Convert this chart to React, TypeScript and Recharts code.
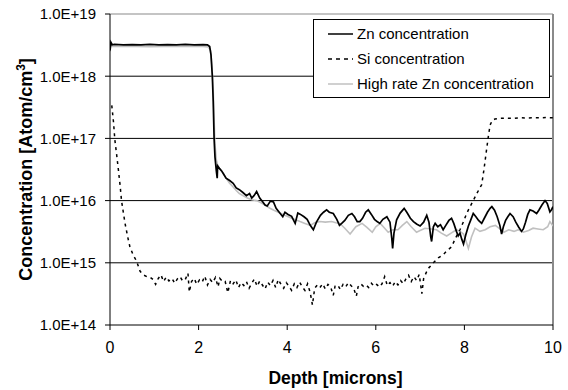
import React from 'react';
import { LineChart, Line, XAxis, YAxis, CartesianGrid, Legend, ReferenceLine, Label } from 'recharts';

const FONT = '"Liberation Sans", Arial, Helvetica, sans-serif';

// ---------- data ----------
const seriesNames = ['Zn concentration', 'Si concentration', 'High rate Zn concentration'];

const znDepth = [
  0.0, 0.02, 0.05, 0.1, 0.3, 0.5, 0.7, 0.9, 1.1, 1.3, 1.5, 1.7, 1.9, 2.1, 2.2, 2.25, 2.28, 2.31, 2.33, 2.35,
  2.37, 2.4, 2.42, 2.43, 2.47, 2.52, 2.56, 2.62, 2.7, 2.78, 2.85, 2.92, 3.0, 3.08, 3.15, 3.2, 3.25, 3.31, 3.38, 3.45,
  3.5, 3.55, 3.62, 3.69, 3.75, 3.82, 3.9, 3.95, 4.02, 4.1, 4.18, 4.24, 4.3, 4.38, 4.45, 4.52, 4.59, 4.66, 4.75, 4.82,
  4.89, 4.95, 5.04, 5.12, 5.18, 5.23, 5.3, 5.38, 5.46, 5.52, 5.58, 5.64, 5.7, 5.77, 5.83, 5.9, 5.97, 6.03, 6.09, 6.16,
  6.25, 6.32, 6.36, 6.38, 6.41, 6.47, 6.55, 6.64, 6.7, 6.78, 6.85, 6.92, 7.0, 7.08, 7.15, 7.2, 7.24, 7.26, 7.3, 7.34,
  7.4, 7.46, 7.52, 7.58, 7.65, 7.71, 7.76, 7.82, 7.86, 7.9, 7.94, 7.98, 8.03, 8.09, 8.14, 8.2, 8.26, 8.32, 8.39, 8.45,
  8.52, 8.58, 8.62, 8.68, 8.74, 8.8, 8.84, 8.88, 8.93, 8.98, 9.03, 9.1, 9.16, 9.22, 9.29, 9.33, 9.38, 9.43, 9.48, 9.55,
  9.63, 9.68, 9.75, 9.82, 9.87, 9.93, 9.97, 10.0,
];
const znConc = [
  2.6e18, 3.5e18, 3.2e18, 3.25e18, 3.2e18, 3.22e18, 3.18e18, 3.25e18, 3.2e18, 3.22e18, 3.18e18, 3.24e18, 3.2e18, 3.22e18, 3.2e18, 3.0e18, 2.2e18, 1.0e18, 4e17, 1.0e17,
  5e16, 3.0e16, 2.3e16, 3.6e16, 3.3e16, 3.0e16, 2.7e16, 2.3e16, 2.1e16, 1.9e16, 1.6e16, 1.5e16, 1.35e16, 1.2e16, 1.3e16, 1.1e16, 1.2e16, 1.4e16, 1.1e16, 9.5e15,
  8.5e15, 8.2e15, 9.8e15, 9.5e15, 7.5e15, 6.5e15, 5.5e15, 6.5e15, 6.0e15, 5.6e15, 4.3e15, 6.3e15, 6.0e15, 5.5e15, 5.0e15, 4.0e15, 3.4e15, 4.5e15, 5.8e15, 6.5e15,
  7.1e15, 6.5e15, 6.2e15, 5.0e15, 4.0e15, 4.3e15, 4.8e15, 5.8e15, 6.2e15, 5.5e15, 4.6e15, 4.6e15, 5.2e15, 6.5e15, 7.1e15, 6.0e15, 5.0e15, 4.6e15, 4.3e15, 5.0e15,
  5.5e15, 4.5e15, 2.5e15, 1.7e15, 3.0e15, 4.9e15, 6.3e15, 7.5e15, 6.5e15, 5.2e15, 4.6e15, 4.2e15, 3.9e15, 4.5e15, 5.8e15, 4.5e15, 2.6e15, 2.2e15, 3.8e15, 4.3e15,
  3.8e15, 4.1e15, 3.4e15, 4.0e15, 4.8e15, 5.2e15, 4.3e15, 3.2e15, 2.7e15, 3.0e15, 2.4e15, 2.0e15, 2.8e15, 3.9e15, 4.8e15, 6.2e15, 5.5e15, 4.8e15, 4.3e15, 5.2e15,
  6.5e15, 7.5e15, 8.0e15, 7.0e15, 5.5e15, 4.0e15, 2.9e15, 3.8e15, 4.8e15, 5.5e15, 6.2e15, 5.5e15, 4.5e15, 3.8e15, 3.2e15, 3.5e15, 4.5e15, 6.0e15, 7.1e15, 6.8e15,
  6.2e15, 7.0e15, 8.5e15, 1.0e16, 9.0e15, 6.6e15, 7.2e15, 8.0e15,
];

const siDepth = [
  0.04, 0.08, 0.11, 0.15, 0.19, 0.23, 0.26, 0.3, 0.34, 0.4, 0.45, 0.52, 0.6, 0.68, 0.75, 0.83, 0.9, 0.97, 1.03, 1.09,
  1.15, 1.21, 1.27, 1.33, 1.4, 1.46, 1.52, 1.58, 1.64, 1.7, 1.76, 1.79, 1.84, 1.9, 1.96, 2.02, 2.08, 2.14, 2.2, 2.26,
  2.32, 2.38, 2.44, 2.48, 2.55, 2.6, 2.66, 2.72, 2.78, 2.84, 2.9, 2.96, 3.02, 3.08, 3.14, 3.2, 3.26, 3.32, 3.38, 3.44,
  3.5, 3.56, 3.62, 3.68, 3.74, 3.8, 3.86, 3.92, 3.98, 4.04, 4.1, 4.16, 4.22, 4.28, 4.34, 4.4, 4.46, 4.52, 4.57, 4.62,
  4.68, 4.74, 4.8, 4.86, 4.92, 4.98, 5.04, 5.08, 5.14, 5.2, 5.26, 5.32, 5.38, 5.44, 5.5, 5.56, 5.6, 5.66, 5.72, 5.78,
  5.84, 5.9, 5.96, 6.02, 6.08, 6.14, 6.2, 6.26, 6.32, 6.38, 6.44, 6.5, 6.56, 6.62, 6.68, 6.74, 6.8, 6.86, 6.92, 6.98,
  7.04, 7.08, 7.14, 7.19, 7.3, 7.41, 7.52, 7.62, 7.71, 7.8, 7.9, 7.98, 8.05, 8.12, 8.2, 8.28, 8.35, 8.39, 8.44, 8.49,
  8.54, 8.58, 8.63, 8.69, 8.8, 8.95, 9.1, 9.25, 9.4, 9.55, 9.7, 9.85, 10.0,
];
const siConc = [
  3.4e17, 1.8e17, 9.4e16, 5.5e16, 3.1e16, 1.7e16, 1.0e16, 6.5e15, 4.3e15, 2.6e15, 1.8e15, 1.35e15, 1.06e15, 7.3e14, 6.4e14, 6.0e14, 5.9e14, 5.4e14, 4.5e14, 5.6e14,
  6.4e14, 5.0e14, 5.9e14, 5.1e14, 5.6e14, 4.7e14, 5.5e14, 6.0e14, 5.1e14, 5.4e14, 6.8e14, 3.4e14, 5.0e14, 5.6e14, 4.5e14, 5.3e14, 4.9e14, 6.1e14, 4.4e14, 5.4e14,
  4.8e14, 5.8e14, 4.1e14, 5.6e14, 4.9e14, 5.0e14, 3.3e14, 5.2e14, 4.6e14, 5.3e14, 4.0e14, 4.8e14, 4.3e14, 5.0e14, 3.9e14, 4.7e14, 5.5e14, 4.2e14, 5.1e14, 4.4e14,
  3.8e14, 4.9e14, 4.3e14, 5.2e14, 4.0e14, 5.4e14, 4.5e14, 3.9e14, 4.8e14, 4.2e14, 3.6e14, 4.6e14, 4.0e14, 4.9e14, 4.1e14, 3.6e14, 4.6e14, 3.3e14, 2.1e14, 3.9e14,
  4.4e14, 4.0e14, 4.6e14, 3.8e14, 4.5e14, 4.1e14, 3.0e14, 4.2e14, 4.4e14, 3.7e14, 4.5e14, 4.1e14, 4.8e14, 4.3e14, 3.9e14, 2.9e14, 4.1e14, 4.6e14, 4.2e14, 4.4e14,
  4.0e14, 4.7e14, 4.2e14, 4.5e14, 4.1e14, 4.6e14, 6.0e14, 4.3e14, 4.8e14, 4.2e14, 5.0e14, 4.4e14, 5.2e14, 4.6e14, 5.5e14, 6.3e14, 5.0e14, 6.0e14, 5.2e14, 6.5e14,
  3.2e14, 5.6e14, 7.0e14, 8.2e14, 1.0e15, 1.2e15, 1.35e15, 1.6e15, 1.8e15, 2.5e15, 3.4e15, 4.6e15, 6.2e15, 7.8e15, 1.0e16, 1.3e16, 1.6e16, 1.8e16, 3.1e16, 5.8e16,
  1.07e17, 1.64e17, 1.95e17, 2.05e17, 2.1e17, 2.12e17, 2.1e17, 2.15e17, 2.13e17, 2.15e17, 2.14e17, 2.16e17, 2.15e17,
];

const hrDepth = [
  0.0, 0.02, 0.05, 0.3, 0.6, 0.9, 1.2, 1.5, 1.8, 2.1, 2.22, 2.27, 2.3, 2.33, 2.35, 2.37, 2.4, 2.44, 2.5, 2.56,
  2.62, 2.7, 2.78, 2.85, 2.92, 3.0, 3.1, 3.2, 3.31, 3.4, 3.5, 3.6, 3.7, 3.8, 3.9, 4.0, 4.1, 4.2, 4.29, 4.4,
  4.52, 4.62, 4.74, 4.86, 5.0, 5.1, 5.19, 5.3, 5.42, 5.55, 5.69, 5.8, 5.92, 6.0, 6.1, 6.2, 6.28, 6.38, 6.5, 6.6,
  6.7, 6.8, 6.92, 7.0, 7.11, 7.25, 7.37, 7.48, 7.6, 7.7, 7.82, 7.9, 7.98, 8.04, 8.09, 8.16, 8.24, 8.35, 8.47, 8.58,
  8.7, 8.8, 8.89, 9.0, 9.12, 9.22, 9.33, 9.45, 9.55, 9.66, 9.78, 9.88, 9.93, 10.0,
];
const hrConc = [
  2.5e18, 3.2e18, 3.0e18, 3.0e18, 3.02e18, 2.98e18, 3.02e18, 3.0e18, 3.02e18, 3.0e18, 2.95e18, 2.6e18, 1.5e18, 6e17, 2e17, 8e16, 4.5e16, 3.5e16, 3.1e16, 2.7e16,
  2.3e16, 1.9e16, 1.65e16, 1.45e16, 1.3e16, 1.2e16, 1.1e16, 1.03e16, 1.0e16, 9.3e15, 8.5e15, 7.6e15, 7.0e15, 6.5e15, 6.0e15, 5.6e15, 5.2e15, 4.9e15, 4.6e15, 4.3e15,
  4.0e15, 4.4e15, 4.6e15, 4.5e15, 4.6e15, 4.4e15, 4.3e15, 3.6e15, 2.9e15, 3.8e15, 4.3e15, 3.7e15, 3.1e15, 3.8e15, 4.3e15, 3.6e15, 3.1e15, 3.4e15, 3.4e15, 4.0e15,
  4.6e15, 3.8e15, 3.1e15, 3.3e15, 3.6e15, 3.5e15, 3.4e15, 3.0e15, 2.7e15, 3.0e15, 3.4e15, 3.2e15, 2.9e15, 2.2e15, 1.7e15, 2.6e15, 3.6e15, 3.2e15, 3.4e15, 3.8e15,
  4.0e15, 3.5e15, 3.1e15, 3.4e15, 3.2e15, 3.4e15, 3.1e15, 3.3e15, 3.6e15, 3.5e15, 3.4e15, 3.8e15, 4.6e15, 3.9e15,
];

const xTicks = [0, 2, 4, 6, 8, 10];
const yTicks = [1e14, 1e15, 1e16, 1e17, 1e18, 1e19];
const gridValues = [1e15, 1e16, 1e17, 1e18];

const toRows = (d: number[], c: number[]) => d.map((x, i) => ({ x, y: c[i] }));
const znData = toRows(znDepth, znConc);
const siData = toRows(siDepth, siConc);
const hrData = toRows(hrDepth, hrConc);

const fmtY = (v: number) => v.toExponential(1).toUpperCase();

const XTitle = (props: any) => {
  const vb = props.viewBox;
  return (
    <text x={vb.x + vb.width / 2 + 4} y={vb.y + 59} textAnchor="middle" fontFamily={FONT} fontSize={17.5} fontWeight="bold" fill="#000">
      Depth [microns]
    </text>
  );
};

const YTitle = (props: any) => {
  const vb = props.viewBox;
  const x = 32;
  const cy = vb.y + vb.height / 2;
  return (
    <text x={x} y={cy} transform={`rotate(-90, ${x}, ${cy})`} textAnchor="middle" fontFamily={FONT} fontSize={18} fontWeight="bold" fill="#000">
      Concentration [Atom/cm<tspan dy={-7} fontSize={12}>3</tspan><tspan dy={7}>]</tspan>
    </text>
  );
};

const renderLegend = (props: any) => {
  const payload = [...(props.payload || [])].sort(
    (a: any, b: any) => seriesNames.indexOf(a.value) - seriesNames.indexOf(b.value)
  );
  return (
    <div style={{ border: '1px solid #000', background: '#fff', boxSizing: 'border-box', width: 237, height: 79, paddingTop: 1, fontFamily: FONT, fontSize: 15, color: '#000' }}>
      {payload.map((p: any, i: number) => (
        <div key={i} style={{ display: 'flex', alignItems: 'center', height: 25 }}>
          <svg width={39} height={10} style={{ flex: 'none' }}>
            <line x1={14} y1={5} x2={39} y2={5} stroke={p.color} strokeWidth={1.5} strokeDasharray={p.payload && p.payload.strokeDasharray ? '4 4' : undefined} />
          </svg>
          <span style={{ marginLeft: 4, whiteSpace: 'nowrap' }}>{p.value}</span>
        </div>
      ))}
    </div>
  );
};

export default function App() {
  return (
    <div style={{ position: 'absolute', left: 0, top: 0, width: 568, height: 390, background: '#fff' }}>
      <LineChart width={568} height={390} margin={{ top: 14, right: 15, bottom: 0, left: 0 }}>
        <CartesianGrid vertical={false} horizontalValues={gridValues} stroke="#000" strokeWidth={1} />
        <ReferenceLine y={1e19} stroke="#8a8a8a" strokeWidth={1.2} />
        <ReferenceLine x={10} stroke="#8a8a8a" strokeWidth={2} />
        <XAxis
          dataKey="x"
          type="number"
          domain={[0, 10]}
          ticks={xTicks}
          allowDataOverflow
          height={65}
          tickSize={5}
          tickMargin={12}
          stroke="#000"
          tickLine={{ stroke: '#000' }}
          tick={{ fontSize: 16, fill: '#000', fontFamily: FONT }}
        >
          <Label content={XTitle} />
        </XAxis>
        <YAxis
          type="number"
          scale="log"
          domain={[1e14, 1e19]}
          ticks={yTicks}
          allowDataOverflow
          width={110}
          tickSize={5}
          tickMargin={9}
          stroke="#000"
          tickLine={{ stroke: '#000' }}
          tickFormatter={fmtY}
          tick={{ fontSize: 15, fill: '#000', fontFamily: FONT }}
        >
          <Label content={YTitle} />
        </YAxis>
        <Line data={hrData} dataKey="y" name={seriesNames[2]} type="linear" stroke="#c0c0c0" strokeWidth={1.6} dot={false} activeDot={false} isAnimationActive={false} />
        <Line data={siData} dataKey="y" name={seriesNames[1]} type="linear" stroke="#000" strokeWidth={1.5} strokeDasharray="3 4" dot={false} activeDot={false} isAnimationActive={false} />
        <Line data={znData} dataKey="y" name={seriesNames[0]} type="linear" stroke="#000" strokeWidth={1.7} dot={false} activeDot={false} isAnimationActive={false} />
        <Legend layout="horizontal" verticalAlign="middle" align="center" wrapperStyle={{ position: 'absolute', left: 313, top: 19, width: 237, height: 79 }} content={renderLegend} />
      </LineChart>
    </div>
  );
}
